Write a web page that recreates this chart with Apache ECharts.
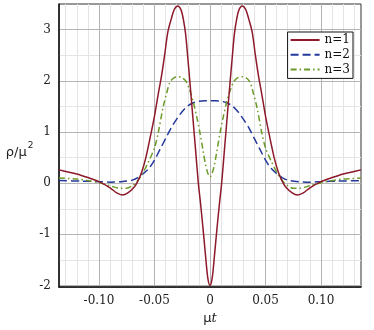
<!DOCTYPE html>
<html>
<head>
<meta charset="utf-8">
<script src="https://cdn.jsdelivr.net/npm/echarts@6/dist/echarts.min.js"></script>
<style>html,body{margin:0;padding:0;background:#fff}#c{width:374px;height:330px}</style>
</head>
<body>
<div id="c"></div>
<script>
// ---- data ----
const seriesNames = ['n=1', 'n=2', 'n=3'];

const tRed = [-0.136,-0.130,-0.120,-0.110,-0.100,-0.090,-0.084,-0.079,-0.074,-0.068,-0.065,-0.0615,-0.058,-0.054,-0.050,-0.046,-0.044,-0.041,-0.038,-0.035,-0.032,-0.029,-0.026,-0.024,-0.022,-0.020,-0.018,-0.0155,-0.013,-0.0105,-0.0085,-0.006,-0.004,-0.002,
  0,0.002,0.004,0.006,0.0085,0.0105,0.013,0.0155,0.018,0.020,0.022,0.024,0.026,0.029,0.032,0.035,0.038,0.041,0.044,0.046,0.050,0.054,0.058,0.0615,0.065,0.068,0.074,0.079,0.084,0.090,0.100,0.110,0.120,0.130,0.136];
const vRed = [0.26,0.23,0.18,0.11,0.03,-0.09,-0.19,-0.23,-0.19,-0.07,0.04,0.22,0.48,0.88,1.31,1.82,2.05,2.48,2.95,3.20,3.40,3.46,3.38,3.20,2.92,2.45,1.95,1.30,0.65,0.00,-0.40,-0.95,-1.42,-1.85,
  -2.00,-1.85,-1.42,-0.95,-0.40,0.00,0.65,1.30,1.95,2.45,2.92,3.20,3.38,3.46,3.40,3.20,2.95,2.48,2.05,1.82,1.31,0.88,0.48,0.22,0.04,-0.07,-0.19,-0.23,-0.19,-0.09,0.03,0.11,0.18,0.23,0.26];

const tBlue = [-0.136,-0.115,-0.100,-0.090,-0.080,-0.070,-0.065,-0.060,-0.055,-0.050,-0.045,-0.040,-0.035,-0.030,-0.025,-0.020,-0.015,-0.010,-0.005,
  0,0.005,0.010,0.015,0.020,0.025,0.030,0.035,0.040,0.045,0.050,0.055,0.060,0.065,0.070,0.080,0.090,0.100,0.115,0.136];
const vBlue = [0.05,0.04,0.03,0.02,0.03,0.06,0.11,0.19,0.29,0.45,0.66,0.87,1.08,1.25,1.40,1.51,1.57,1.60,1.61,
  1.61,1.61,1.60,1.57,1.51,1.40,1.25,1.08,0.87,0.66,0.45,0.29,0.19,0.11,0.06,0.03,0.02,0.03,0.04,0.05];

const tGreen = [-0.136,-0.120,-0.110,-0.100,-0.090,-0.081,-0.075,-0.0694,-0.0655,-0.0618,-0.0558,-0.050,-0.0465,-0.0423,-0.039,-0.0363,-0.033,-0.029,-0.025,-0.0213,-0.018,-0.015,-0.012,-0.009,-0.006,-0.004,-0.002,
  0,0.002,0.004,0.006,0.009,0.012,0.015,0.018,0.0213,0.025,0.029,0.033,0.0363,0.039,0.0423,0.0465,0.050,0.0558,0.0618,0.0655,0.0694,0.075,0.081,0.090,0.100,0.110,0.120,0.136];
const vGreen = [0.10,0.08,0.05,0.01,-0.05,-0.10,-0.10,-0.04,0.04,0.15,0.40,0.69,1.00,1.48,1.76,1.96,2.05,2.08,2.06,1.98,1.80,1.58,1.30,0.98,0.60,0.36,0.20,
  0.12,0.20,0.36,0.60,0.98,1.30,1.58,1.80,1.98,2.06,2.08,2.05,1.96,1.76,1.48,1.00,0.69,0.40,0.15,0.04,-0.04,-0.10,-0.10,-0.05,0.01,0.05,0.08,0.10];

const xTicks = [-0.10, -0.05, 0, 0.05, 0.10];
const xMinorTicks = [-0.13,-0.12,-0.11,-0.09,-0.08,-0.07,-0.06,-0.04,-0.03,-0.02,-0.01,0.01,0.02,0.03,0.04,0.06,0.07,0.08,0.09,0.11,0.12,0.13];
const yTicks = [-2, -1, 0, 1, 2, 3];
const yMinorTicks = [-1.5, -0.5, 0.5, 1.5, 2.5];
const xRange = [-0.136, 0.136];
const yRange = [-2.03, 3.5];

// ---- chart ----
const pairs = (ts, vs) => ts.map((t, i) => [t, vs[i]]);
const chart = echarts.init(document.getElementById('c'), null, {renderer: 'canvas'});
const serif = 'DejaVu Serif';
const majorGrid = '#b4b4b4', minorGrid = '#e4e4e4';

chart.setOption({
  animation: false,
  backgroundColor: '#fff',
  grid: {left: 59, right: 13, top: 4, bottom: 40, show: true, borderColor: '#333', borderWidth: 1, backgroundColor: 'transparent'},
  legend: {
    right: 21, top: 32, orient: 'vertical',
    backgroundColor: '#fff', borderColor: '#111', borderWidth: 1,
    padding: [2, 3, 3, 2], itemGap: 2.7, itemWidth: 29, itemHeight: 12,
    itemStyle: {opacity: 0},
    textStyle: {fontFamily: serif, fontSize: 12, color: '#111'},
    data: seriesNames
  },
  xAxis: [
    {
      type: 'value', min: xRange[0], max: xRange[1], z: 1,
      axisLine: {show: true, onZero: false, lineStyle: {color: '#111', width: 1.5}},
      axisTick: {show: false, customValues: xTicks},
      axisLabel: {customValues: xTicks, margin: 8, fontFamily: serif, fontSize: 12, color: '#222',
        formatter: v => (Math.abs(v) < 1e-9 ? '0' : v.toFixed(2))},
      splitLine: {show: true, lineStyle: {color: majorGrid, width: 1}},
      name: '{a|μ}{b|t}', nameLocation: 'middle', nameGap: 19,
      nameTextStyle: {rich: {a: {fontFamily: 'DejaVu Sans', fontSize: 13, color: '#222'}, b: {fontFamily: 'DejaVu Serif', fontStyle: 'italic', fontSize: 13, color: '#222'}}}
    },
    {
      type: 'value', min: xRange[0], max: xRange[1], position: 'top', z: 0,
      axisLine: {show: false}, axisTick: {show: false, customValues: xMinorTicks},
      axisLabel: {show: false, customValues: xMinorTicks},
      splitLine: {show: true, lineStyle: {color: minorGrid, width: 1}}
    }
  ],
  yAxis: [
    {
      type: 'value', min: yRange[0], max: yRange[1], z: 1,
      axisLine: {show: true, onZero: false, lineStyle: {color: '#111', width: 1.5}},
      axisTick: {show: false, customValues: yTicks},
      axisLabel: {customValues: yTicks, margin: 8, fontFamily: serif, fontSize: 12, color: '#222',
        formatter: v => String(Math.round(v))},
      splitLine: {show: true, lineStyle: {color: majorGrid, width: 1}},
      name: '{a|ρ/μ}{b|2}', nameLocation: 'middle', nameRotate: 0, nameGap: 22,
      nameTextStyle: {padding: [10, 0, 0, 0], rich: {
        a: {fontFamily: 'DejaVu Sans', fontSize: 13, color: '#222', lineHeight: 18, verticalAlign: 'bottom'},
        b: {fontFamily: 'DejaVu Sans', fontSize: 9, color: '#222', lineHeight: 18, verticalAlign: 'top', padding: [0, 0, 0, 1]}
      }}
    },
    {
      type: 'value', min: yRange[0], max: yRange[1], position: 'right', z: 0,
      axisLine: {show: false}, axisTick: {show: false, customValues: yMinorTicks},
      axisLabel: {show: false, customValues: yMinorTicks},
      splitLine: {show: true, lineStyle: {color: minorGrid, width: 1}}
    }
  ],
  series: [
    {name: seriesNames[0], type: 'line', xAxisIndex: 0, yAxisIndex: 0, data: pairs(tRed, vRed), showSymbol: false, symbol: 'none', smooth: 0.3,
      lineStyle: {color: '#8c1a2b', width: 1.5}, itemStyle: {color: '#8c1a2b'}, z: 4},
    {name: seriesNames[1], type: 'line', xAxisIndex: 0, yAxisIndex: 0, data: pairs(tBlue, vBlue), showSymbol: false, symbol: 'none', smooth: 0.3,
      lineStyle: {color: '#23389a', width: 1.5, type: [8, 4]}, itemStyle: {color: '#23389a'}, z: 3},
    {name: seriesNames[2], type: 'line', xAxisIndex: 0, yAxisIndex: 0, data: pairs(tGreen, vGreen), showSymbol: false, symbol: 'none', smooth: 0.3,
      lineStyle: {color: '#6b9a26', width: 1.5, type: [6, 3, 1.5, 3]}, itemStyle: {color: '#6b9a26'}, z: 3}
  ]
});
</script>
</body>
</html>
